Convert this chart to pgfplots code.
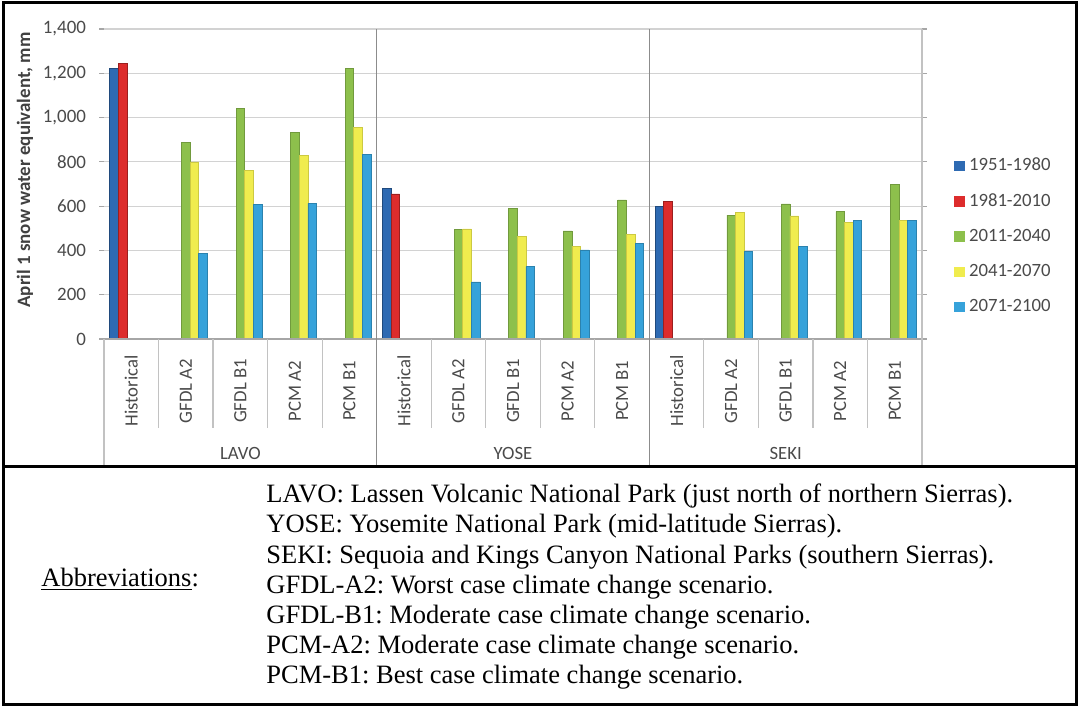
\documentclass[border=0pt]{standalone}
\usepackage{fontspec}
\setmainfont{Carlito}
\newfontfamily\timesfont{Liberation Serif}
\usepackage{pgfplots}
\pgfplotsset{compat=1.18}
\definecolor{cA}{HTML}{2E6AB2}
\definecolor{cB}{HTML}{DD2C2C}
\definecolor{cC}{HTML}{8DC04C}
\definecolor{cD}{HTML}{F0EC4E}
\definecolor{cE}{HTML}{36A2DA}
\definecolor{gridgray}{HTML}{D2D2D2}
\definecolor{axgray}{HTML}{A6A6A6}
\definecolor{sepgray}{HTML}{8C8C8C}
\definecolor{labgray}{HTML}{4A4A4A}
\frenchspacing
\begin{document}
\begin{tikzpicture}[x=0.5bp,y=-0.5bp]
\useasboundingbox (0,0) rectangle (1079,708);
\begin{axis}[
  at={(52bp,-169.5bp)}, anchor=south west,
  scale only axis, width=409bp, height=155bp,
  xmin=-0.5, xmax=14.5, ymin=0, ymax=1400,
  ybar=0pt, bar width=0.158,
  axis line style={draw=none},
  ymajorgrids, grid style={gridgray, line width=0.6bp},
  ytick={0,200,...,1400},
  xtick={0,...,14},
  xticklabels={Historical,GFDL A2,GFDL B1,PCM A2,PCM B1,Historical,GFDL A2,GFDL B1,PCM A2,PCM B1,Historical,GFDL A2,GFDL B1,PCM A2,PCM B1},
  xtick style={draw=none},
  ytick style={axgray, line width=0.6bp},
  tick align=outside, major tick length=2.5bp,
  /pgf/number format/1000 sep={,},
  /pgf/number format/assume math mode=true,
  yticklabel style={font=\fontsize{9.5}{11}\selectfont, color=labgray, xshift=-3bp},
  xticklabel style={font=\fontsize{9.4}{11}\selectfont, color=labgray, yshift=-23.5bp, rotate=90, anchor=center},
  clip=false,
  legend style={at={(1.0318,0.6)}, anchor=north west, draw=none, fill=none,
    font=\fontsize{9.4}{11}\selectfont, text=labgray, row sep=8.8bp,
    nodes={inner sep=0pt, text height=6.8bp, text depth=2bp}},
  legend cell align=left,
  legend image code/.code={\fill[#1,draw=none] (0bp,-2.6bp) rectangle (5.2bp,2.6bp); \path[draw=none,fill=none] (0bp,0bp) -- (7.3bp,0bp);},
]
\addplot[fill=cA, draw=cA!70!black, line width=0.3bp] coordinates {(0,1222) (5,680) (10,598)};
\addplot[fill=cB, draw=cB!70!black, line width=0.3bp] coordinates {(0,1246) (5,655) (10,620)};
\addplot[fill=cC, draw=cC!80!black, line width=0.3bp] coordinates {(1,888) (2,1040) (3,933) (4,1222) (6,495) (7,590) (8,488) (9,628) (11,560) (12,610) (13,575) (14,699)};
\addplot[fill=cD, draw=cD!85!black, line width=0.3bp] coordinates {(1,800) (2,760) (3,830) (4,955) (6,497) (7,465) (8,420) (9,474) (11,572) (12,556) (13,525) (14,534)};
\addplot[fill=cE, draw=cE!80!black, line width=0.3bp] coordinates {(1,388) (2,608) (3,613) (4,834) (6,258) (7,327) (8,402) (9,432) (11,397) (12,417) (13,534) (14,537)};
\legend{1951-1980,1981-2010,2011-2040,2041-2070,2071-2100}
% axis line at zero and plot borders
\draw[axgray, line width=0.7bp] (axis cs:-0.5,0) -- (axis cs:14.5,0);
\draw[gridgray!80!gray, line width=0.6bp] (axis cs:14.5,1400) -- (axis cs:14.5,0) -- ++(0bp,-63.5bp);
\draw[gridgray!80!gray, line width=0.6bp] (axis cs:-0.5,0) -- ++(0bp,-63.5bp);
\draw[sepgray, line width=0.8bp] (axis cs:4.5,1400) -- (axis cs:4.5,0) -- ++(0bp,-63.5bp);
\draw[sepgray, line width=0.8bp] (axis cs:9.5,1400) -- (axis cs:9.5,0) -- ++(0bp,-63.5bp);
\pgfplotsinvokeforeach{0.5,1.5,2.5,3.5,5.5,6.5,7.5,8.5,10.5,11.5,12.5,13.5}{
  \draw[gridgray!80!gray, line width=0.6bp] (axis cs:#1,0) -- ++(0bp,-44.5bp);
}
\node[font=\fontsize{9.4}{11}\selectfont, text=labgray] at ([yshift=-57bp]axis cs:2,0) {LAVO};
\node[font=\fontsize{9.4}{11}\selectfont, text=labgray] at ([yshift=-57bp]axis cs:7,0) {YOSE};
\node[font=\fontsize{9.4}{11}\selectfont, text=labgray] at ([yshift=-57bp]axis cs:12,0) {SEKI};
\end{axis}
\node[rotate=90, font=\bfseries\fontsize{9.5}{11}\selectfont, text=black!75] at (25,170) {April 1 snow water equivalent, mm};
% frame
\draw[line width=1.5bp] (3.5,3) rectangle (1076.5,704.5);
\draw[line width=1.5bp] (3.5,466.5) -- (1076.5,466.5);
% abbreviations
\begin{scope}[every node/.style={anchor=base west, inner sep=0pt, font=\timesfont\fontsize{13.3}{15}\selectfont}]
\node at (41,586) {\underline{Abbreviations}:};
\node at (266,503) {LAVO: Lassen Volcanic National Park (just north of northern Sierras).};
\node at (266,533) {YOSE: Yosemite National Park (mid-latitude Sierras).};
\node at (266,563) {SEKI: Sequoia and Kings Canyon National Parks (southern Sierras).};
\node at (266,593) {GFDL-A2: Worst case climate change scenario.};
\node at (266,623) {GFDL-B1: Moderate case climate change scenario.};
\node at (266,653) {PCM-A2: Moderate case climate change scenario.};
\node at (266,683) {PCM-B1: Best case climate change scenario.};
\end{scope}
\end{tikzpicture}
\end{document}
